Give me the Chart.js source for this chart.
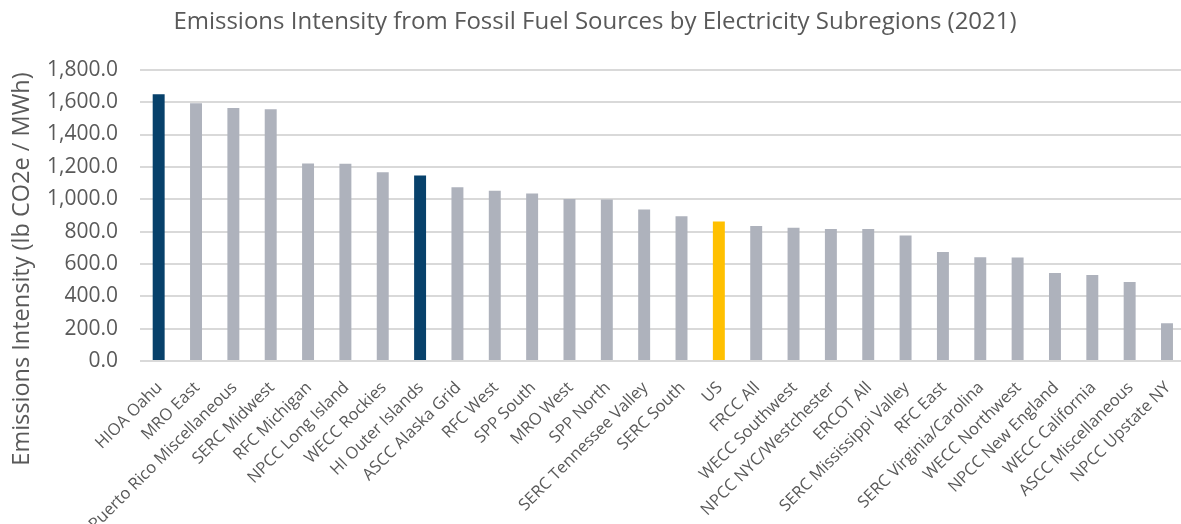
<!DOCTYPE html>
<html>
<head>
<meta charset="utf-8">
<title>Emissions Intensity by Subregion</title>
<script src="https://cdn.jsdelivr.net/npm/chart.js@4.4.0/dist/chart.umd.min.js"></script>
<style>
    html, body { margin: 0; padding: 0; background: #fff; overflow: hidden; }
    #wrap { width: 1190px; height: 524px; }
</style>
</head>
<body>
<div id="wrap"><canvas id="intensity-chart"></canvas></div>
<script>
// Subregions, sorted by intensity
const subregions = [
    'HIOA Oahu', 'MRO East', 'Puerto Rico Miscellaneous', 'SERC Midwest',
    'RFC Michigan', 'NPCC Long Island', 'WECC Rockies', 'HI Outer Islands',
    'ASCC Alaska Grid', 'RFC West', 'SPP South', 'MRO West', 'SPP North',
    'SERC Tennessee Valley', 'SERC South', 'US', 'FRCC All', 'WECC Southwest',
    'NPCC NYC/Westchester', 'ERCOT All', 'SERC Mississippi Valley', 'RFC East',
    'SERC Virginia/Carolina', 'WECC Northwest', 'NPCC New England',
    'WECC California', 'ASCC Miscellaneous', 'NPCC Upstate NY'
];

// lb CO2e / MWh
const intensity = [
    1649, 1593, 1564, 1556,
    1221, 1219, 1167, 1147,
    1074, 1052, 1035, 1002, 998,
    936, 895, 862, 835, 823,
    816, 816, 775, 674,
    642, 639, 544,
    531, 488, 234
];

// Hawaii subregions and the US average get their own colour
const hawaii = ['HIOA Oahu', 'HI Outer Islands'];
const national = ['US'];

const yMin = 0;
const yMax = 1800;
const yStep = 200;

const textColor = '#595959';
const gridColor = '#d9d9d9';

function barColor(name) {
    if (hawaii.includes(name)) return '#07416b';
    if (national.includes(name)) return '#ffc000';
    return '#aeb2bc';
}

// Vertical axis title, centred on the full canvas height
const yTitlePlugin = {
    id: 'yTitle',
    afterDraw(chart) {
        const c = chart.ctx;
        c.save();
        c.translate(22, 269);
        c.rotate(-Math.PI / 2);
        c.font = "23.5px 'Open Sans', sans-serif";
        c.fillStyle = textColor;
        c.textAlign = 'center';
        c.textBaseline = 'middle';
        c.fillText('Emissions Intensity (lb CO2e / MWh)', 0, 0);
        c.restore();
    }
};

const ctx = document.getElementById('intensity-chart');
new Chart(ctx, {
    type: 'bar',
    data: {
        labels: subregions,
        datasets: [{
            data: intensity,
            backgroundColor: subregions.map(barColor),
            barPercentage: 0.32,
            categoryPercentage: 1.0
        }]
    },
    options: {
        responsive: true,
        maintainAspectRatio: false,
        animation: false,
        layout: { padding: { left: 0, right: 0, top: 0, bottom: 0 } },
        plugins: {
            legend: { display: false },
            tooltip: { enabled: false },
            title: {
                display: true,
                text: 'Emissions Intensity from Fossil Fuel Sources by Electricity Subregions (2021)',
                color: textColor,
                font: { family: "'Open Sans', sans-serif", size: 24, weight: 'normal' },
                padding: { top: 8, bottom: 33 }
            }
        },
        scales: {
            x: {
                grid: { display: false },
                border: { display: false },
                afterFit: (scale) => { scale.height = 163; },
                ticks: {
                    color: textColor,
                    font: { family: "'Open Sans', sans-serif", size: 16.5 },
                    autoSkip: false,
                    minRotation: 45,
                    maxRotation: 45,
                    labelOffset: 1,
                    padding: 9
                }
            },
            y: {
                min: yMin,
                max: yMax,
                border: { display: false },
                afterFit: (scale) => { scale.width = 140; },
                grid: { color: gridColor, lineWidth: 2, drawTicks: false },
                ticks: {
                    stepSize: yStep,
                    color: textColor,
                    padding: 22,
                    font: { family: "'Open Sans', sans-serif", size: 21 },
                    callback: (v) => v.toLocaleString('en-US', { minimumFractionDigits: 1, maximumFractionDigits: 1 })
                }
            }
        }
    },
    plugins: [yTitlePlugin]
});
</script>
</body>
</html>
